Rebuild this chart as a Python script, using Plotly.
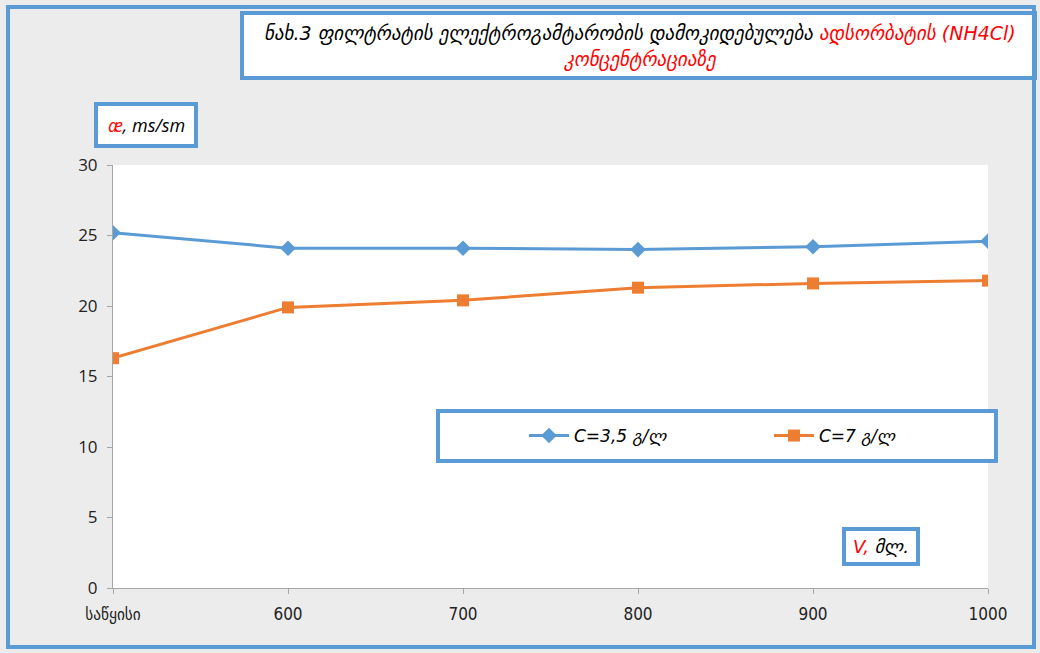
import plotly.graph_objects as go

categories = ["საწყისი", "600", "700", "800", "900", "1000"]
series_a_name = "C=3,5 გ/ლ"
series_a = [25.2, 24.1, 24.1, 24.0, 24.2, 24.6]
series_b_name = "C=7 გ/ლ"
series_b = [16.3, 19.9, 20.4, 21.3, 21.6, 21.8]
y_ticks = [0, 5, 10, 15, 20, 25, 30]

W, H = 1040, 653
L, R, T, B = 113, 52, 165, 65
pw, ph = W - L - R, H - T - B

def px(x):
    return (x - L) / pw

def py(y):
    return (H - B - y) / ph

BLUE = "#5b9bd5"
ORANGE = "#ed7d31"
GEO = "DejaVu Sans"
BOX = "#5b9bd5"

fig = go.Figure()
fig.add_trace(go.Scatter(
    x=categories, y=series_a, name="<i>" + series_a_name + "</i>", mode="lines+markers",
    line=dict(color=BLUE, width=3), marker=dict(symbol="diamond", size=12, color=BLUE),
))
fig.add_trace(go.Scatter(
    x=categories, y=series_b, name="<i>" + series_b_name + "</i>", mode="lines+markers",
    line=dict(color=ORANGE, width=3), marker=dict(symbol="square", size=12, color=ORANGE),
))

def box(x0, y0, x1, y1, lw=4):
    return dict(type="rect", xref="paper", yref="paper",
                x0=px(x0), x1=px(x1), y0=py(y1), y1=py(y0),
                fillcolor="white", line=dict(color=BOX, width=lw), layer="below")

shapes = [
    dict(type="rect", xref="paper", yref="paper", x0=px(8), x1=px(W - 6), y0=py(H - 6), y1=py(7),
         fillcolor="rgba(0,0,0,0)", line=dict(color=BOX, width=4), layer="above"),
    box(242, 13, 1035, 78),
    box(96, 104, 196, 146),
    box(438, 411, 996, 461),
    box(844, 529, 918, 564),
]

annotations = [
    dict(xref="paper", yref="paper", x=px(640), y=py(33), xanchor="center", yanchor="middle",
         showarrow=False, font=dict(family=GEO, size=19, color="black"),
         text="<i>ნახ.3 ფილტრატის ელექტროგამტარობის დამოკიდებულება <span style='color:#ff0000'>ადსორბატის (NH4Cl)</span></i>"),
    dict(xref="paper", yref="paper", x=px(640), y=py(60), xanchor="center", yanchor="middle",
         showarrow=False, font=dict(family=GEO, size=19, color="#ff0000"),
         text="<i>კონცენტრაციაზე</i>"),
    dict(xref="paper", yref="paper", x=px(146), y=py(125), xanchor="center", yanchor="middle",
         showarrow=False, font=dict(family="Open Sans", size=18, color="black"),
         text="<i><span style='color:#ff0000'>æ</span>, ms/sm</i>"),
    dict(xref="paper", yref="paper", x=px(881), y=py(546), xanchor="center", yanchor="middle",
         showarrow=False, font=dict(family=GEO, size=18, color="black"),
         text="<i><span style='color:#ff0000'>V,</span> მლ.</i>"),
]

fig.update_layout(
    width=W, height=H,
    margin=dict(l=L, r=R, t=T, b=B),
    paper_bgcolor="#ececec",
    plot_bgcolor="white",
    shapes=shapes,
    annotations=annotations,
    showlegend=True,
    legend=dict(orientation="h", x=px(524), y=py(436), xanchor="left", yanchor="middle",
                bgcolor="rgba(0,0,0,0)", borderwidth=0, entrywidth=190, entrywidthmode="pixels",
                itemwidth=40,
                font=dict(family=GEO, size=17, color="black")),
    xaxis=dict(type="category", range=[0, len(categories) - 1], showgrid=False,
               showline=True, linecolor="#a6a6a6", linewidth=1,
               ticks="outside", ticklen=5, tickcolor="#a6a6a6", ticklabelstandoff=6,
               tickfont=dict(family="DejaVu Sans Condensed", size=17, color="#222"), zeroline=False),
    yaxis=dict(range=[0, 30], tickvals=y_ticks, showgrid=False,
               showline=True, linecolor="#a6a6a6", linewidth=1,
               ticks="outside", ticklen=5, tickcolor="#a6a6a6", ticklabelstandoff=6,
               tickfont=dict(family="Open Sans", size=17, color="#222"), zeroline=False),
)

fig.write_html("out.html", config={"displayModeBar": False},
               post_script="document.body.style.margin='0px';document.body.style.overflow='hidden';")
